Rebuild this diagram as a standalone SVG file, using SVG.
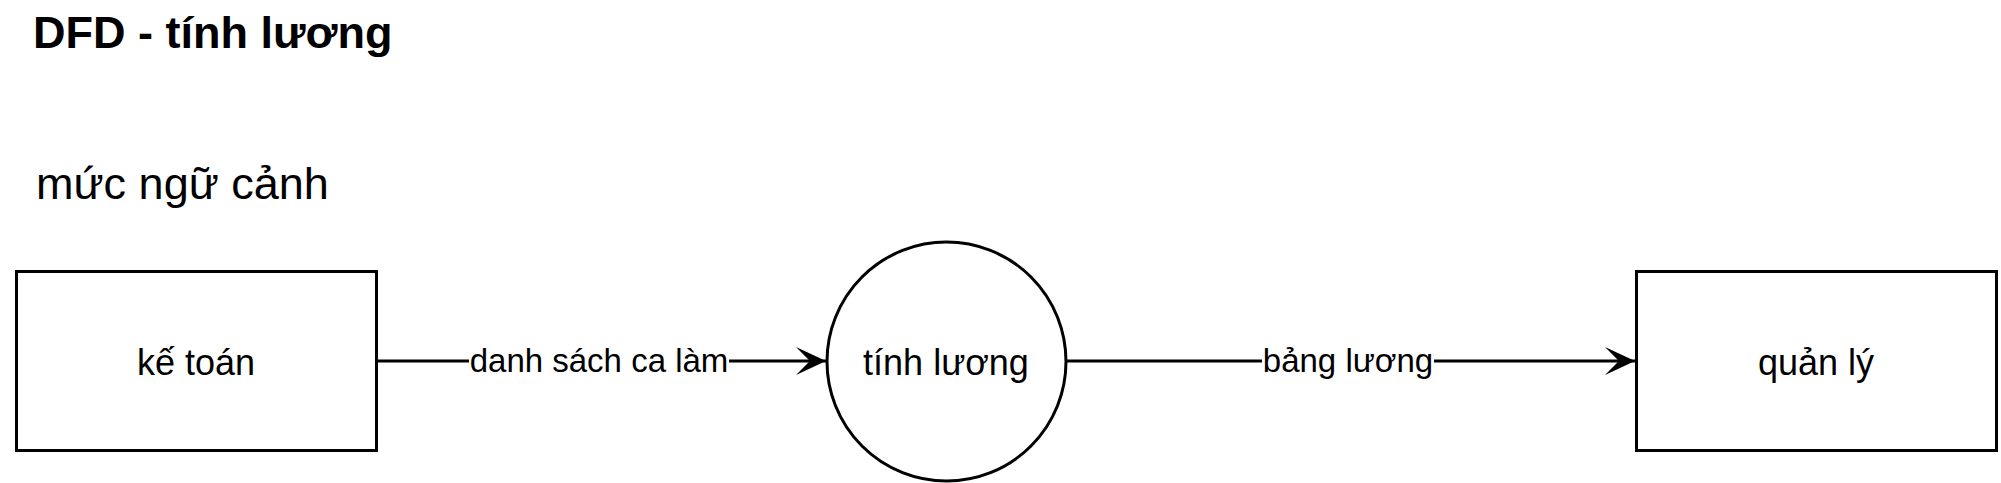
<svg xmlns="http://www.w3.org/2000/svg" width="2001" height="483" viewBox="0 0 2001 483">
<style>
.t{font-family:"Liberation Sans",Arial,sans-serif;fill:#000}
.node{fill:#fff;stroke:#000;stroke-width:3}
.edge{fill:none;stroke:#000;stroke-width:3}
.lbl{font-size:36px;text-anchor:middle}
.elbl{font-size:33px;text-anchor:middle}
</style>
<defs>
<marker id="arr" markerUnits="userSpaceOnUse" markerWidth="30" markerHeight="30" viewBox="0 0 28 28" refX="28" refY="14" orient="auto">
<path d="M0,1 L28,14 L0,27 L13,14 Z" fill="#000"/>
</marker>
</defs>
<rect width="2001" height="483" fill="#fff"/>
<text class="t" x="33" y="48" font-size="45" font-weight="bold">DFD - tính lương</text>
<text class="t" x="36" y="199" font-size="45">mức ngữ cảnh</text>
<g id="connectors">
<path class="edge" d="M376,361 L826,361" marker-end="url(#arr)"/>
<path class="edge" d="M1066,361 L1635,361" marker-end="url(#arr)"/>
<rect x="469" y="342" width="260" height="38" fill="#fff"/>
<text class="t elbl" x="599" y="372">danh sách ca làm</text>
<rect x="1262" y="342" width="172" height="38" fill="#fff"/>
<text class="t elbl" x="1348" y="372">bảng lương</text>
</g>
<g id="ke-toan">
<rect class="node" x="16.5" y="271.5" width="360" height="179"/>
<text class="t lbl" x="196" y="375">kế toán</text>
</g>
<g id="tinh-luong">
<circle class="node" cx="946.5" cy="361.5" r="119.5"/>
<text class="t lbl" x="946" y="375">tính lương</text>
</g>
<g id="quan-ly">
<rect class="node" x="1636.5" y="271.5" width="360" height="179"/>
<text class="t lbl" x="1816" y="375">quản lý</text>
</g>
</svg>
